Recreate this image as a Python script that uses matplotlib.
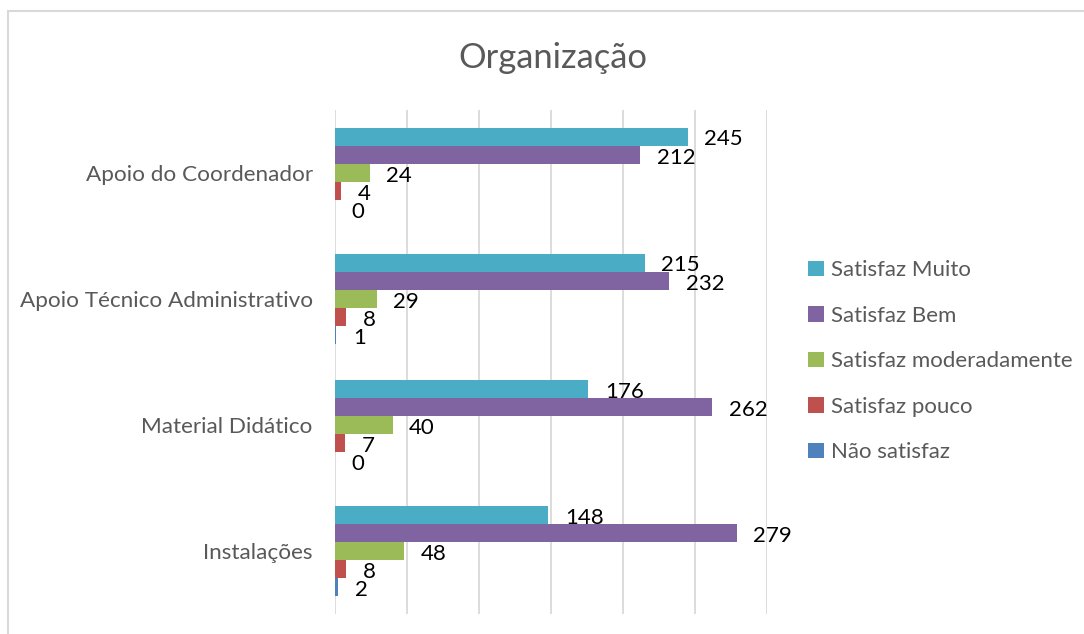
import matplotlib.pyplot as plt
import numpy as np
from matplotlib.lines import Line2D

plt.rcParams['font.family'] = ['Lato', 'DejaVu Sans']

categories = ["Apoio do Coordenador", "Apoio Técnico Administrativo",
              "Material Didático", "Instalações"]
series = ["Satisfaz Muito", "Satisfaz Bem", "Satisfaz moderadamente",
          "Satisfaz pouco", "Não satisfaz"]
muito = [245, 215, 176, 148]
bem = [212, 232, 262, 279]
moderado = [24, 29, 40, 48]
pouco = [4, 8, 7, 8]
nao = [0, 1, 0, 2]
colors = ["#4BACC6", "#8064A2", "#9BBB59", "#C0504D", "#4F81BD"]

values = [muito, bem, moderado, pouco, nao]
text_gray = "#595959"

fig = plt.figure(figsize=(10.84, 6.34), dpi=100)
ax = fig.add_axes([0.309, 0.0315, 0.3985, 0.795])

y = np.arange(len(categories))
h = 0.144
for i, (vals, name, c) in enumerate(zip(values, series, colors)):
    pos = y + (i - 2) * h
    ax.barh(pos, vals, height=h, color=c, label=name, zorder=3)
    for p, v in zip(pos, vals):
        ax.annotate(str(v), (v, p), xytext=(12, -2), textcoords="offset points",
                    ha="left", va="center", fontsize=16, color="black", zorder=4)

ax.set_xlim(0, 300)
ax.set_ylim(len(categories) - 0.5, -0.5)
ax.set_xticks(np.arange(0, 301, 50))
ax.set_xticklabels([])
ax.tick_params(axis="x", length=0)
ax.tick_params(axis="y", length=0, pad=16, labelsize=16.2, labelcolor=text_gray)
ax.set_yticks(y)
ax.set_yticklabels(categories)
ax.grid(axis="x", color="#D9D9D9", linewidth=1.3, zorder=0)
for s in ax.spines.values():
    s.set_visible(False)

fig.text(0.51, 0.908, "Organização", ha="center", va="center",
         fontsize=24.8, color=text_gray)

handles, labels = ax.get_legend_handles_labels()
fig.legend(handles, labels, loc="center left", bbox_to_anchor=(0.727, 0.43),
           frameon=False, fontsize=16, labelcolor=text_gray,
           handlelength=0.7, handleheight=0.7, handletextpad=0.35,
           labelspacing=1.15)

# chart border (top and left visible)
fig.add_artist(Line2D([8 / 1084, 8 / 1084], [0, 1 - 11 / 634],
                      transform=fig.transFigure, color="#D9D9D9", linewidth=1.5))
fig.add_artist(Line2D([8 / 1084, 1], [1 - 11 / 634, 1 - 11 / 634],
                      transform=fig.transFigure, color="#D9D9D9", linewidth=1.5))

fig.savefig("out.png", dpi=100, facecolor="white")
